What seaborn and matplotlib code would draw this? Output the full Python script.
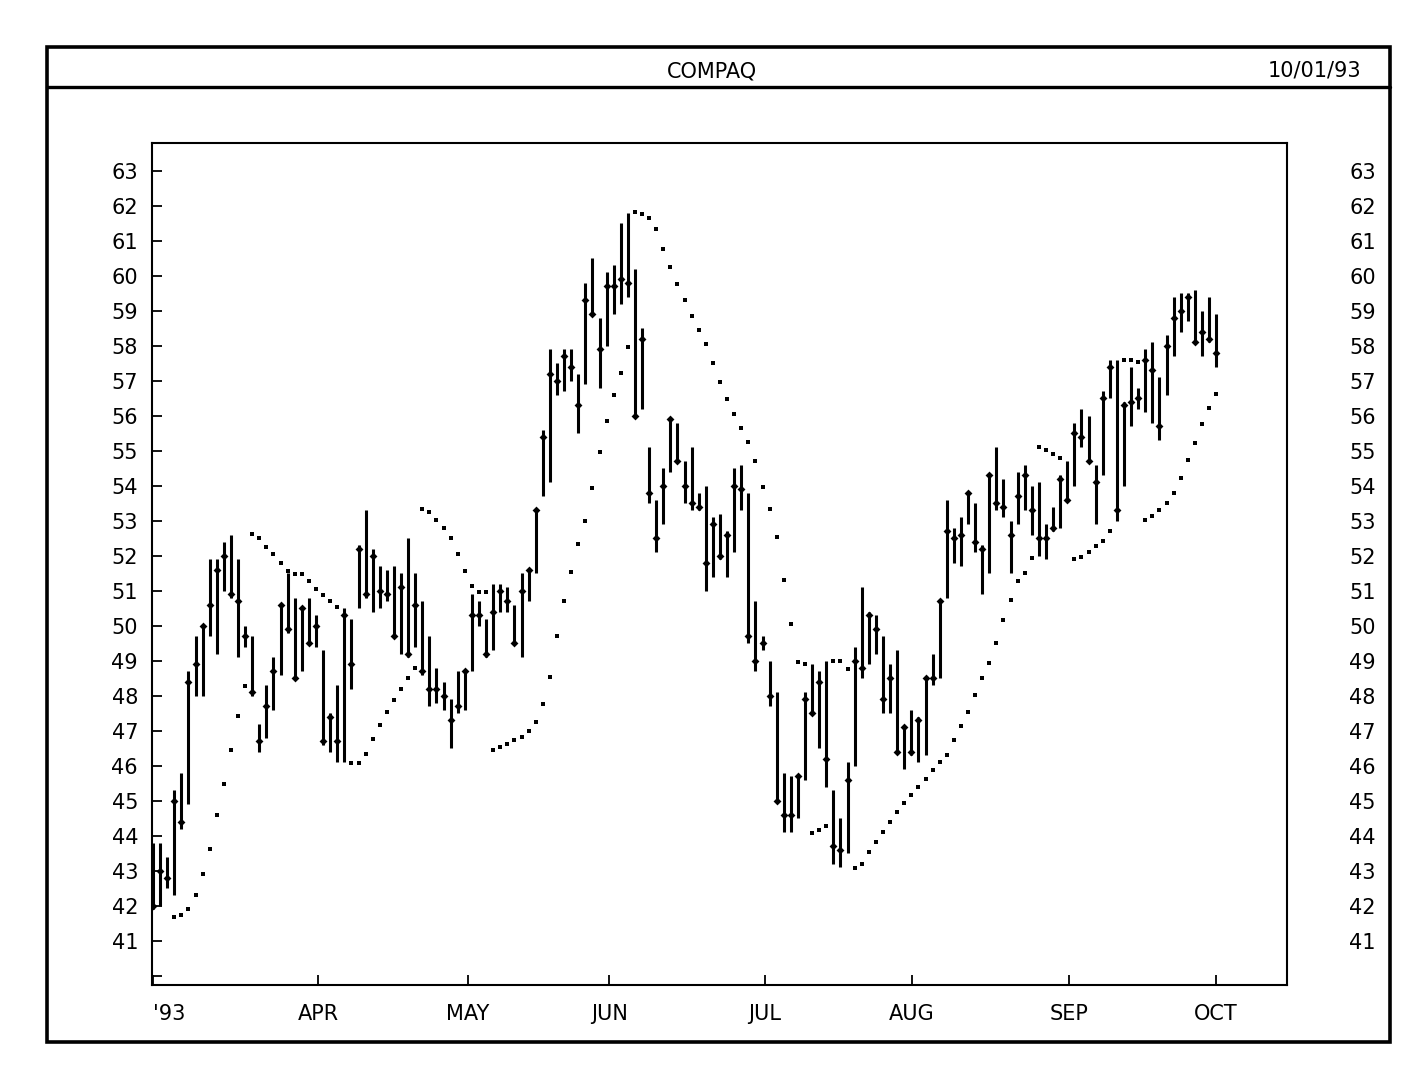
import numpy as np
import pandas as pd
import matplotlib
matplotlib.use("Agg")
import matplotlib.pyplot as plt
from matplotlib.patches import Rectangle
from matplotlib.lines import Line2D
import seaborn as sns

# ---------------- data ----------------
title = "COMPAQ"
date_label = "10/01/93"

high = [43.8, 43.8, 43.4, 45.3, 45.8, 48.7, 49.7, 50.0, 51.9, 51.9,
        52.4, 52.6, 51.9, 50.0, 49.7, 47.2, 48.3, 49.1, 50.6, 51.5,
        50.8, 50.5, 50.8, 50.3, 49.3, 47.5, 48.3, 50.5, 50.2, 52.3,
        53.3, 52.2, 51.7, 51.6, 51.7, 51.5, 52.5, 51.5, 50.7, 49.7,
        48.8, 48.4, 47.9, 48.7, 48.7, 50.9, 50.7, 50.2, 51.2, 51.2,
        51.1, 50.6, 51.5, 51.6, 53.3, 55.6, 57.9, 57.5, 57.9, 57.9,
        57.2, 59.8, 60.5, 58.8, 60.1, 60.3, 61.5, 61.8, 60.2, 58.5,
        55.1, 53.6, 54.5, 55.9, 55.8, 54.7, 55.1, 53.8, 54.0, 53.1,
        53.2, 52.7, 54.5, 54.6, 53.8, 50.7, 49.7, 49.0, 48.1, 45.8,
        45.7, 45.7, 48.1, 48.9, 48.7, 49.0, 45.3, 44.5, 46.1, 49.4,
        51.1, 50.4, 50.3, 49.7, 48.9, 49.3, 47.1, 47.6, 47.4, 48.5,
        49.2, 50.7, 53.6, 52.8, 53.1, 53.8, 53.5, 52.3, 54.3, 55.1,
        54.2, 53.0, 54.4, 54.6, 54.0, 54.1, 52.9, 53.4, 54.3, 54.7,
        55.8, 56.2, 56.0, 54.6, 56.7, 57.6, 57.6, 56.4, 57.4, 56.8,
        57.9, 58.1, 57.1, 58.3, 59.4, 59.5, 59.5, 59.6, 59.0, 59.4,
        58.9]

low = [41.9, 42.0, 42.5, 42.3, 44.2, 44.9, 48.0, 48.0, 49.7, 49.2,
       51.0, 50.8, 49.1, 49.4, 48.0, 46.4, 46.8, 47.6, 48.6, 49.8,
       48.5, 48.7, 49.5, 49.4, 46.6, 46.4, 46.1, 46.1, 48.2, 50.5,
       50.8, 50.4, 50.5, 50.7, 49.7, 49.2, 49.1, 49.4, 48.6, 47.7,
       47.8, 47.6, 46.5, 47.5, 47.6, 48.7, 50.0, 49.1, 49.3, 50.4,
       50.4, 49.5, 49.1, 50.7, 51.5, 53.7, 54.1, 56.6, 56.7, 57.0,
       55.5, 56.9, 58.9, 56.8, 58.0, 58.9, 59.2, 59.4, 56.0, 56.2,
       53.5, 52.1, 52.9, 54.4, 54.7, 53.5, 53.3, 53.3, 51.0, 51.4,
       51.9, 51.4, 52.1, 53.3, 49.5, 48.7, 49.3, 47.7, 45.0, 44.1,
       44.1, 44.5, 45.6, 47.5, 46.5, 45.4, 43.2, 43.1, 43.5, 46.0,
       48.5, 48.9, 49.2, 47.5, 47.5, 46.4, 45.9, 46.3, 46.1, 46.3,
       48.3, 48.5, 50.8, 51.8, 51.7, 52.9, 52.1, 50.9, 51.5, 53.3,
       53.1, 51.5, 52.9, 53.3, 52.6, 52.0, 51.9, 52.7, 52.8, 53.6,
       54.0, 55.1, 54.7, 52.9, 54.3, 56.5, 53.0, 54.0, 55.7, 56.2,
       56.1, 55.8, 55.3, 56.6, 57.7, 58.4, 58.7, 58.1, 57.7, 58.1,
       57.4]

close = [42.0, 43.0, 42.8, 45.0, 44.4, 48.4, 48.9, 50.0, 50.6, 51.6,
         52.0, 50.9, 50.7, 49.7, 48.1, 46.7, 47.7, 48.7, 50.6, 49.9,
         48.5, 50.5, 49.5, 50.0, 46.7, 47.4, 46.7, 50.3, 48.9, 52.2,
         50.9, 52.0, 51.0, 50.9, 49.7, 51.1, 49.2, 50.6, 48.7, 48.2,
         48.2, 48.0, 47.3, 47.7, 48.7, 50.3, 50.3, 49.2, 50.4, 51.0,
         50.7, 49.5, 51.0, 51.6, 53.3, 55.4, 57.2, 57.0, 57.7, 57.4,
         56.3, 59.3, 58.9, 57.9, 59.7, 59.7, 59.9, 59.8, 56.0, 58.2,
         53.8, 52.5, 54.0, 55.9, 54.7, 54.0, 53.5, 53.4, 51.8, 52.9,
         52.0, 52.6, 54.0, 53.9, 49.7, 49.0, 49.5, 48.0, 45.0, 44.6,
         44.6, 45.7, 47.9, 47.5, 48.4, 46.2, 43.7, 43.6, 45.6, 49.0,
         48.8, 50.3, 49.9, 47.9, 48.5, 46.4, 47.1, 46.4, 47.3, 48.5,
         48.5, 50.7, 52.7, 52.5, 52.6, 53.8, 52.4, 52.2, 54.3, 53.5,
         53.4, 52.6, 53.7, 54.3, 53.3, 52.5, 52.5, 52.8, 54.2, 53.6,
         55.5, 55.4, 54.7, 54.1, 56.5, 57.4, 53.3, 56.3, 56.4, 56.5,
         57.6, 57.3, 55.7, 58.0, 58.8, 59.0, 59.4, 58.1, 58.4, 58.2,
         57.8]

nan = float("nan")
sar = [nan, nan, nan, 41.68, 41.74, 41.91, 42.31, 42.90, 43.62, 44.60,
       45.48, 46.46, 47.44, 48.27, 52.63, 52.50, 52.27, 52.05, 51.81, 51.57,
       51.48, 51.48, 51.29, 51.06, 50.89, 50.71, 50.53, nan, 46.08, 46.08,
       46.33, 46.76, 47.17, 47.54, 47.89, 48.20, 48.50, 48.79, 53.34, 53.25,
       53.03, 52.81, 52.50, 52.05, 51.57, 51.15, 50.98, 50.98, 46.46, 46.55,
       46.62, 46.73, 46.82, 47.00, 47.26, 47.77, 48.54, 49.70, 50.70, 51.55,
       52.34, 53.01, 53.95, 54.98, 55.86, 56.60, 57.22, 57.96, 61.82, 61.77,
       61.65, 61.33, 60.77, 60.25, 59.76, 59.31, 58.87, 58.46, 58.07, 57.50,
       56.96, 56.48, 56.05, 55.65, 55.27, 54.71, 53.98, 53.33, 52.55, 51.31,
       50.05, 48.98, 48.90, 44.08, 44.17, 44.28, 49.01, 49.01, 48.76, 43.08,
       43.20, 43.55, 43.84, 44.12, 44.41, 44.67, 44.93, 45.17, 45.41, 45.62,
       45.89, 46.10, 46.31, 46.74, 47.14, 47.55, 48.03, 48.51, 48.95, 49.50,
       50.17, 50.74, 51.29, 51.50, 51.95, 55.12, 55.03, 54.91, 54.79, nan,
       51.90, 51.96, 52.12, 52.29, 52.44, 52.72, nan, 57.60, 57.60, 57.53,
       53.03, 53.14, 53.31, 53.52, 53.79, 54.22, 54.74, 55.22, 55.77, 56.22,
       56.62]

month_labels = ["'93", "APR", "MAY", "JUN", "JUL", "AUG", "SEP", "OCT"]
month_tick_index = [0, 23.3, 44.4, 64.4, 86.3, 107.1, 129.3, 150]
y_ticks = list(range(40, 64))
y_labels = [""] + [str(v) for v in range(41, 64)]
right_ticks = list(range(41, 64))

# ---------------- build table ----------------
df = pd.DataFrame({"day": np.arange(len(high)), "high": high, "low": low,
                   "close": close, "sar": sar})

# ---------------- styling ----------------
sns.set_theme(style="white")
FONT = ["Liberation Sans Narrow", "DejaVu Sans"]
plt.rcParams["font.family"] = FONT
plt.rcParams["axes.linewidth"] = 1.5

W, H = 1420, 1074
fig = plt.figure(figsize=(W / 100, H / 100), dpi=100)
fig.patch.set_facecolor("white")

def fx(px):
    return px / W

def fy(py):
    return 1 - py / H

# outer frame and header divider
fig.add_artist(Rectangle((fx(47), fy(1042)), fx(1390) - fx(47), fy(47) - fy(1042),
                         transform=fig.transFigure, fill=False, lw=2.6,
                         edgecolor="black"))
fig.add_artist(Line2D([fx(47), fx(1390)], [fy(87), fy(87)],
                      transform=fig.transFigure, lw=2.4, color="black"))
fig.text(fx(712), fy(71), title, ha="center", va="center", fontsize=15,
         color="black")
fig.text(fx(1315), fy(71), date_label, ha="center", va="center", fontsize=15,
         color="black")

ax = fig.add_axes([fx(152), fy(985), fx(1287) - fx(152), fy(143) - fy(985)])
ax.set_facecolor("white")

# high-low bars
ax.vlines(df["day"], df["low"], df["high"], color="black", lw=2.2)
# close marks
sns.scatterplot(data=df, x="day", y="close", marker="D", s=16, color="black",
                linewidth=0, ax=ax, legend=False, zorder=3)
# parabolic SAR dots
sns.scatterplot(data=df.dropna(subset=["sar"]), x="day", y="sar", marker="s",
                s=6, color="black", linewidth=0, ax=ax, legend=False, zorder=3)

ax.set_xlim(-0.14, 160.0)
ax.set_ylim(39.74, 63.8)
ax.set_xlabel("")
ax.set_ylabel("")

for sp in ax.spines.values():
    sp.set_visible(True)
    sp.set_color("black")
    sp.set_linewidth(1.5)

ax.set_yticks(y_ticks)
ax.set_yticklabels(y_labels)
ax.set_xticks(month_tick_index)
ax.set_xticklabels(month_labels)
ax.tick_params(axis="y", direction="in", length=7, width=1.3, pad=10,
               labelsize=15, colors="black", left=True, right=False)
ax.tick_params(axis="x", direction="in", length=7, width=1.3, pad=14,
               labelsize=15, colors="black", bottom=True, top=False)
xt = ax.get_xticklabels()
xt[0].set_horizontalalignment("left")

ax2 = ax.twinx()
ax2.set_ylim(ax.get_ylim())
ax2.set_yticks(right_ticks)
ax2.set_yticklabels([str(v) for v in right_ticks])
ax2.tick_params(axis="y", length=0, pad=45, labelsize=15, colors="black")
ax2.grid(False)
for sp in ax2.spines.values():
    sp.set_visible(False)

fig.savefig("out.png", dpi=100, facecolor="white")
